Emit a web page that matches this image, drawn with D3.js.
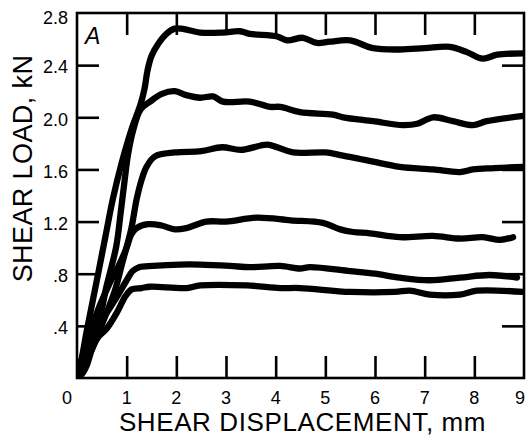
<!DOCTYPE html>
<html>
<head>
<meta charset="utf-8">
<script src="https://cdn.jsdelivr.net/npm/d3@7"></script>
<style>
  html, body { margin: 0; padding: 0; background: #fff; }
  svg { display: block; }
  text { font-family: "Liberation Sans", Arial, Helvetica, sans-serif; fill: #000; }
</style>
</head>
<body>
<svg id="chart" width="529" height="442"></svg>
<script>
// Shear load (kN) against shear displacement (mm), one trace per test
const curveA = [[0,0],[0.08,0.12],[0.2,0.37],[0.4,0.75],[0.58,1.1],[0.72,1.37],[0.9,1.65],[1.1,1.91],[1.28,2.1],[1.36,2.22],[1.42,2.36],[1.5,2.47],[1.63,2.56],[1.8,2.64],[1.97,2.68],[2.1,2.68],[2.48,2.65],[2.94,2.65],[3.28,2.66],[3.48,2.64],[4.03,2.62],[4.23,2.59],[4.55,2.61],[4.83,2.57],[5.09,2.58],[5.5,2.59],[5.96,2.53],[6.5,2.52],[7.0,2.53],[7.51,2.54],[7.85,2.5],[8.17,2.45],[8.46,2.48],[8.98,2.49]];
const curveB = [[0,0],[0.1,0.1],[0.22,0.22],[0.48,0.5],[0.58,0.68],[0.79,1.01],[0.88,1.27],[0.96,1.52],[1.03,1.72],[1.13,1.9],[1.28,2.06],[1.47,2.12],[1.71,2.18],[1.97,2.2],[2.2,2.17],[2.48,2.15],[2.74,2.16],[2.94,2.12],[3.48,2.12],[3.89,2.08],[4.09,2.08],[4.49,2.04],[5.15,2.02],[5.36,2.0],[5.96,1.97],[6.56,1.94],[6.85,1.95],[7.17,2.0],[7.57,1.97],[7.97,1.94],[8.25,1.97],[8.98,2.01]];
const curveC = [[0,0],[0.16,0.1],[0.46,0.37],[0.77,0.68],[0.91,0.88],[1.09,1.14],[1.2,1.37],[1.3,1.52],[1.4,1.62],[1.57,1.7],[1.97,1.73],[2.5,1.74],[2.92,1.77],[3.3,1.75],[3.83,1.79],[4.03,1.77],[4.35,1.73],[5.0,1.73],[5.3,1.71],[5.7,1.68],[5.96,1.66],[6.5,1.62],[7.17,1.6],[7.71,1.58],[7.97,1.6],[8.4,1.61],[8.98,1.62]];
const curveD = [[0,0],[0.15,0.22],[0.4,0.5],[0.65,0.72],[0.85,0.87],[1.0,1.0],[1.09,1.1],[1.2,1.15],[1.43,1.18],[1.7,1.17],[1.97,1.14],[2.2,1.15],[2.6,1.2],[3.0,1.2],[3.62,1.23],[4.3,1.21],[4.95,1.19],[5.3,1.14],[5.56,1.12],[5.9,1.11],[6.5,1.08],[7.17,1.09],[7.71,1.07],[8.17,1.08],[8.52,1.06],[8.78,1.08]];
const curveE = [[0,0],[0.1,0.12],[0.3,0.3],[0.55,0.47],[0.8,0.62],[1.0,0.75],[1.12,0.82],[1.25,0.85],[1.53,0.86],[2.07,0.87],[2.48,0.87],[3.08,0.86],[3.48,0.85],[4.09,0.86],[4.49,0.84],[4.69,0.85],[5.5,0.82],[6.0,0.8],[6.5,0.77],[7.1,0.75],[7.71,0.77],[8.31,0.79],[8.86,0.77]];
const curveF = [[0,0],[0.1,0.03],[0.2,0.1],[0.3,0.22],[0.42,0.31],[0.6,0.38],[0.8,0.5],[0.98,0.63],[1.1,0.68],[1.3,0.69],[1.47,0.7],[2.21,0.69],[2.48,0.71],[3.42,0.71],[4.09,0.69],[4.49,0.69],[5.5,0.66],[6.4,0.66],[6.7,0.67],[7.1,0.64],[7.71,0.64],[8.05,0.67],[8.98,0.66]];

const xTicks = [0, 1, 2, 3, 4, 5, 6, 7, 8, 9];
const yTicks = [0.4, 0.8, 1.2, 1.6, 2.0, 2.4, 2.8];
const yTickLabels = [".4", ".8", "1.2", "1.6", "2.0", "2.4", "2.8"];
const xTitle = "SHEAR DISPLACEMENT, mm";
const yTitle = "SHEAR LOAD, kN";
const panelLetter = "A";

const svg = d3.select("#chart");
const plotLeft = 77, plotRight = 524, plotTop = 13, plotBottom = 378;

const x = d3.scaleLinear().domain([0, 9]).range([plotLeft, plotRight]);
const y = d3.scaleLinear().domain([0, 2.8]).range([plotBottom, plotTop]);

// Inward ticks on all four sides
const innerX = xTicks.slice(1, -1);
const innerY = yTicks.slice(0, -1);
const tickLen = 22;

function styleAxis(g) {
  g.select(".domain").remove();
  g.selectAll(".tick line").attr("stroke", "#000").attr("stroke-width", 2.6);
  g.selectAll(".tick text").remove();
}
svg.append("g").attr("transform", `translate(0,${plotBottom})`)
  .call(d3.axisBottom(x).tickValues(innerX).tickSize(-tickLen)).call(styleAxis);
svg.append("g").attr("transform", `translate(0,${plotTop})`)
  .call(d3.axisTop(x).tickValues(innerX).tickSize(-tickLen)).call(styleAxis);
svg.append("g").attr("transform", `translate(${plotLeft},0)`)
  .call(d3.axisLeft(y).tickValues(innerY).tickSize(-tickLen)).call(styleAxis);
svg.append("g").attr("transform", `translate(${plotRight},0)`)
  .call(d3.axisRight(y).tickValues(innerY).tickSize(-tickLen)).call(styleAxis);

// Curves, clipped to the frame
svg.append("clipPath").attr("id", "plotClip")
  .append("rect").attr("x", plotLeft).attr("y", plotTop)
  .attr("width", plotRight - plotLeft).attr("height", plotBottom - plotTop);

const line = d3.line()
  .x(d => x(d[0]))
  .y(d => y(d[1]))
  .curve(d3.curveCatmullRom.alpha(0.5));

svg.append("g").attr("clip-path", "url(#plotClip)")
  .selectAll("path")
  .data([curveF, curveE, curveD, curveC, curveB, curveA])
  .join("path")
  .attr("d", line)
  .attr("fill", "none")
  .attr("stroke", "#000")
  .attr("stroke-width", 6.3)
  .attr("stroke-linejoin", "round")
  .attr("stroke-linecap", "round");

// Frame
svg.append("rect")
  .attr("x", plotLeft).attr("y", plotTop)
  .attr("width", plotRight - plotLeft).attr("height", plotBottom - plotTop)
  .attr("fill", "none").attr("stroke", "#000").attr("stroke-width", 2.6);

// X tick labels (end labels tucked inside the corners)
svg.append("g").selectAll("text")
  .data(xTicks)
  .join("text")
  .attr("x", (d, i) => i === 0 ? x(d) - 5 : (i === xTicks.length - 1 ? x(d) + 1 : x(d)))
  .attr("y", 404)
  .attr("text-anchor", (d, i) => (i === 0 || i === xTicks.length - 1) ? "end" : "middle")
  .attr("font-size", 18)
  .text(d => d);

// Y tick labels
svg.append("g").selectAll("text")
  .data(yTicks)
  .join("text")
  .attr("x", plotLeft - 9)
  .attr("y", (d, i) => y(d) + (i === yTicks.length - 1 ? 5 : 2))
  .attr("dy", "0.35em")
  .attr("text-anchor", "end")
  .attr("font-size", 18)
  .text((d, i) => yTickLabels[i]);

// Axis titles
svg.append("text")
  .attr("x", (plotLeft + plotRight) / 2 + 2)
  .attr("y", 431)
  .attr("text-anchor", "middle")
  .attr("font-size", 26)
  .attr("letter-spacing", 0.6)
  .text(xTitle);

svg.append("text")
  .attr("transform", `translate(32,${(plotTop + plotBottom) / 2 - 27}) rotate(-90)`)
  .attr("text-anchor", "middle")
  .attr("font-size", 27)
  .attr("letter-spacing", 0.4)
  .text(yTitle);

// Panel letter
svg.append("text")
  .attr("x", 85).attr("y", 44)
  .attr("font-size", 23)
  .attr("font-style", "italic")
  .text(panelLetter);
</script>
</body>
</html>
